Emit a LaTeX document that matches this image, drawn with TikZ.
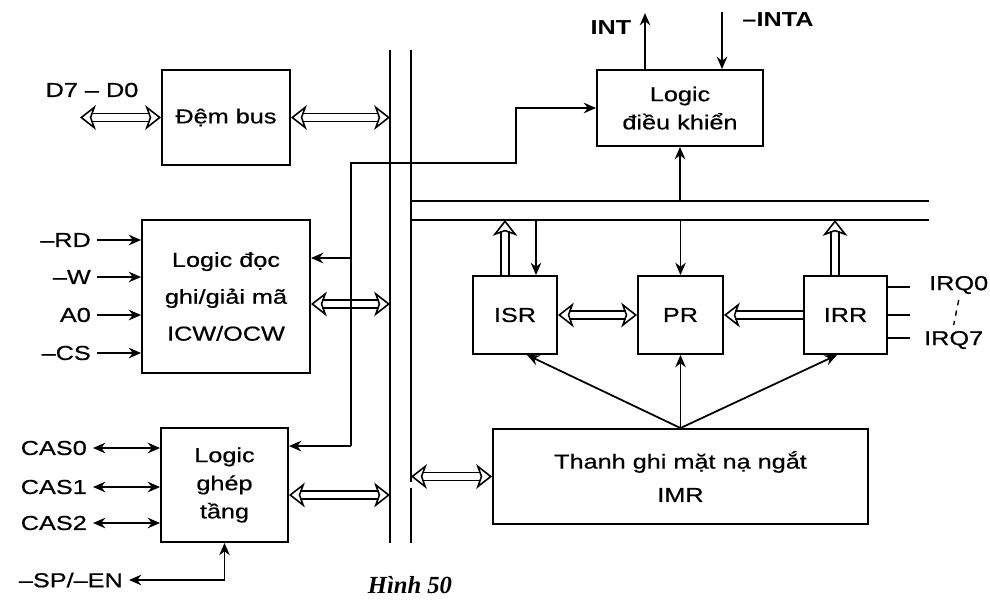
\documentclass[tikz,border=0pt]{standalone}
\usepackage{fontspec}
\setmainfont[FakeStretch=1.25, UprightFeatures={FakeBold=0.6}]{Liberation Sans}
\newfontfamily\captionfont{Liberation Serif}
\usetikzlibrary{arrows.meta, positioning, calc}

\tikzset{
  block/.style={draw, line width=1.1pt, align=center, inner sep=2pt},
  sig/.style={line width=1pt, -{Stealth[length=7pt, width=6pt]}},
  bothsig/.style={line width=1pt, {Stealth[length=7pt, width=6pt]}-{Stealth[length=7pt, width=6pt]}},
  busarrow/.style={double, double distance=3.8pt, line width=0.9pt, -{Stealth[open, length=9pt, width=14pt, inset=2.5pt]}},
  busboth/.style={double, double distance=3.8pt, line width=0.9pt, {Stealth[open, length=9pt, width=14pt, inset=2.5pt]}-{Stealth[open, length=9pt, width=14pt, inset=2.5pt]}},
  busline/.style={line width=1.2pt},
}

\begin{document}
\begin{tikzpicture}[x=0.02cm, y=-0.02cm, every node/.style={font=\fontsize{11.5}{16}\selectfont}]
    \useasboundingbox (0,0) rectangle (990,603);

    % internal bus
    \coordinate (busL) at (390,0);
    \coordinate (busR) at (411,0);
    \coordinate (busT) at (0,201);
    \coordinate (busB) at (0,220);
    \draw[busline] (390,50) -- (390,543);
    \draw[busline] (411,50) -- (411,482) (411,488) -- (411,543);
    \draw[busline] (411,201) -- (929,201) (411,220) -- (929,220);

    % blocks
    \node[block, minimum width=2.56cm, minimum height=1.9cm] (dem) at (226,117.5) {Đệm bus};
    \node[block, minimum width=3.36cm, minimum height=3.06cm, font=\fontsize{11.5}{21}\selectfont] (doc) at (226,296.5) {Logic đọc\\ghi/giải mã\\ICW/OCW};
    \node[block, minimum width=2.54cm, minimum height=2.28cm] (ghep) at (224.5,485) {Logic\\ghép\\tầng};
    \node[block, minimum width=3.32cm, minimum height=1.52cm] (dk) at (680,108) {Logic\\điều khiển};
    \node[block, minimum width=1.68cm, minimum height=1.56cm] (isr) at (515,315) {ISR};
    \node[block, minimum width=1.7cm, minimum height=1.56cm] (pr) at (680.5,315) {PR};
    \node[block, minimum width=1.66cm, minimum height=1.56cm] (irr) at (845.5,315) {IRR};
    \node[block, minimum width=7.5cm, minimum height=1.9cm, font=\fontsize{11.5}{19}\selectfont] (imr) at (680.5,476.5) {Thanh ghi mặt nạ ngắt\\IMR};

    % data bus buffer
    \node (dlabel) at (92,90) {D7 – D0};
    \coordinate (dbus) at (80,117.5);
    \draw[busboth] (dbus) -- (dem.west);
    \draw[busboth] (dem.east) -- (dem.east -| busL);

    % read/write logic
    \foreach \name/\yy in {–RD/240, –W/277, A0/315, –CS/353} {
        \node[anchor=east] (in\yy) at (97,\yy) {\name};
        \draw[sig] (in\yy.east) -- (in\yy.east -| doc.west);
    }
    \coordinate (docbus) at ([yshift=-0.15cm]doc.east);
    \draw[busboth] (docbus) -- (docbus -| busL);

    % cascade logic
    \foreach \i/\yy in {0/448, 1/487, 2/523} {
        \node[anchor=east] (cas\i) at (93,\yy) {CAS\i};
        \draw[bothsig] (cas\i.east) -- (cas\i.east -| ghep.west);
    }
    \node[anchor=east] (sp) at (129,580) {–SP/–EN};
    \draw[bothsig] (sp.east) -| (ghep.south);
    \coordinate (ghepbus) at ([yshift=-0.2cm]ghep.east);
    \draw[busboth] (ghepbus) -- (ghepbus -| busL);

    % control line
    \coordinate (ctl) at (351,0);
    \coordinate (docin) at ([yshift=0.77cm]doc.east);
    \coordinate (ghepin) at ([yshift=-0.38cm]ghep.north east);
    \draw[sig] (docin -| ctl) -- (docin);
    \draw[sig] (ghepin -| ctl) -- (ghepin);
    \draw[sig] (ghepin -| ctl) |- (516,163) |- (dk.west);

    % control logic
    \coordinate (intx) at ([xshift=-0.7cm]dk.north);
    \coordinate (inta) at (722,12);
    \node[font=\fontsize{11.5}{16}\selectfont\bfseries] (intl) at (611,28) {INT};
    \node[font=\fontsize{11.5}{16}\selectfont\bfseries] (intal) at (778,20) {–INTA};
    \draw[sig] (intx) -- ++(0,-56);
    \draw[sig] (inta) -- (inta |- dk.north);
    \draw[sig] (dk.south |- busT) -- (dk.south);

    % registers
    \coordinate (isrin) at ([xshift=0.42cm]isr.north);
    \coordinate (isrout) at ([xshift=-0.2cm]isr.north);
    \coordinate (irrout) at ([xshift=-0.21cm]irr.north);
    \draw[sig] (isrin |- busB) -- (isrin);
    \draw[busarrow] (isrout) -- (isrout |- busB);
    \draw[sig] (pr.north |- busB) -- (pr.north);
    \draw[busarrow] (irrout) -- (irrout |- busB);
    \draw[busboth] (isr.east) -- (pr.west);
    \draw[busarrow] (irr.west) -- (pr.east);

    % mask register
    \draw[sig] (imr.north) -- ([xshift=0.24cm]isr.south);
    \draw[sig] (imr.north) -- (pr.south);
    \draw[sig] (imr.north) -- ([xshift=-0.17cm]irr.south);
    \draw[busboth] (imr.west -| busR) -- (imr.west);

    % interrupt requests
    \foreach \dy in {-28, 0, 23} {
        \draw[line width=1pt] ($(irr.east)+(0,\dy)$) -- ++(22,0);
    }
    \node[anchor=west] (irq0) at (923,285) {IRQ0};
    \node[anchor=west] (irq7) at (918,340) {IRQ7};
    \draw[dashed, line width=0.8pt] (irq0.south) -- (irq7.north);

    \node[font=\captionfont\fontsize{14}{16}\selectfont\bfseries\itshape] (cap) at (410,585) {Hình 50};
\end{tikzpicture}
\end{document}
